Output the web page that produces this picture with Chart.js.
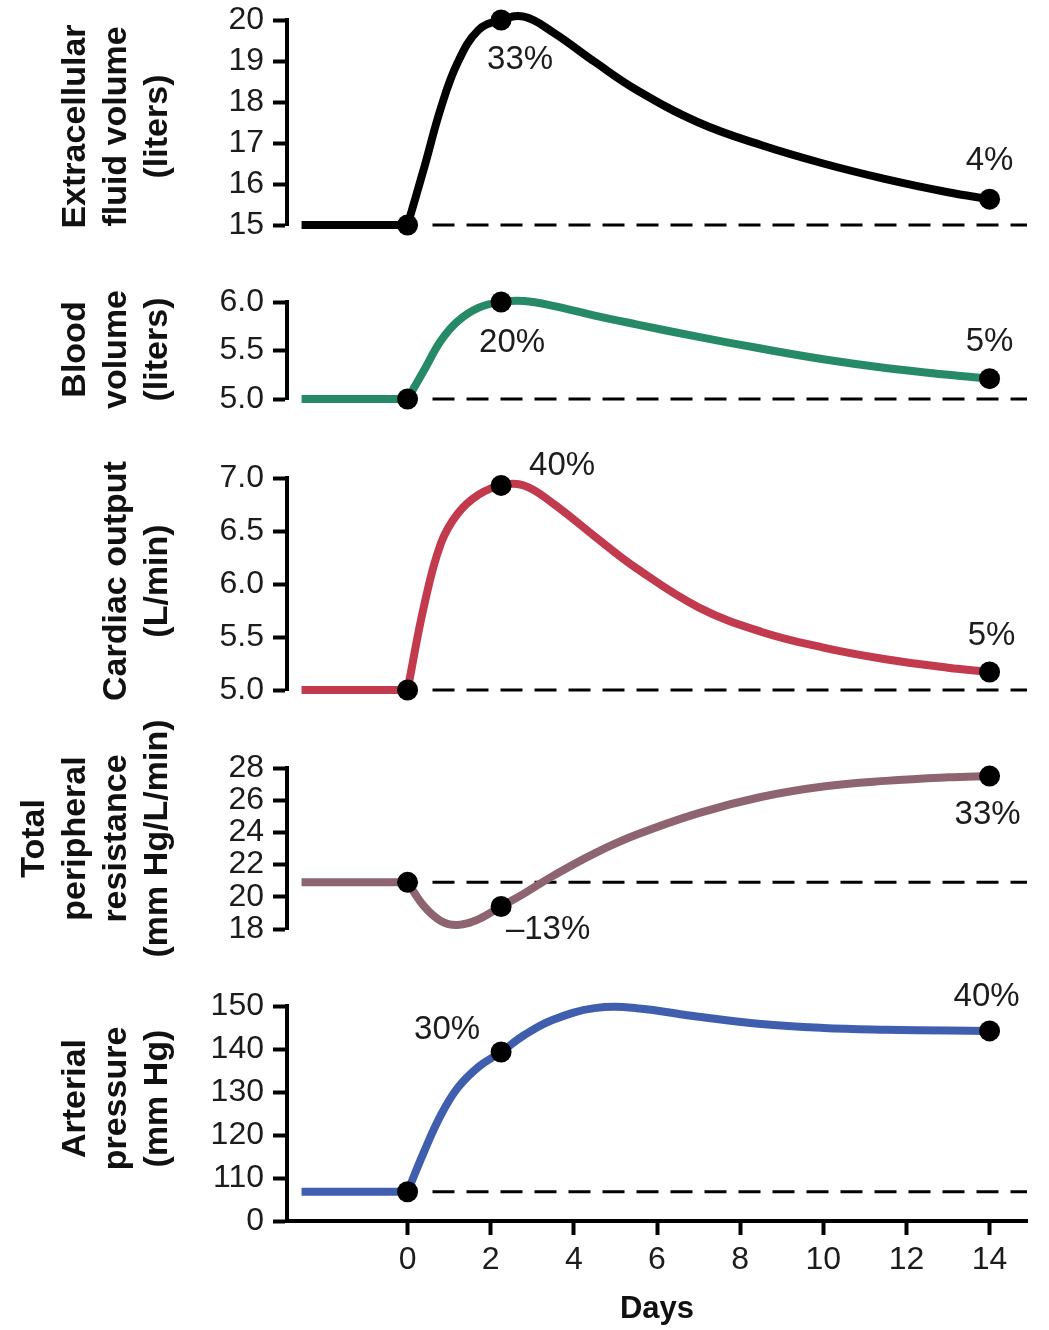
<!DOCTYPE html>
<html>
<head>
<meta charset="utf-8">
<script src="https://cdn.jsdelivr.net/npm/chart.js@4/dist/chart.umd.min.js"></script>
<style>
  html, body { margin: 0; padding: 0; background: #ffffff; }
  #wrap { position: relative; width: 1049px; height: 1330px; overflow: hidden; }
  #wrap canvas { position: absolute; left: 0; }
</style>
</head>
<body>
<div id="wrap"></div>
<script>
// Time grid (days) for the response curves after salt loading begins
const days = [0, 0.4, 0.8, 1.2, 1.7, 2.25, 2.8, 3.5, 4.5, 5.5, 7, 8.5, 10, 11.5, 13, 14];
const preDays = [-2.55, 0];          // steady state before day 0
const markerDays = [0, 2.25, 14];    // highlighted points
const dashDays = [0.6, 14.9];        // reference (baseline) dashed line
const dayTicks = [0, 2, 4, 6, 8, 10, 12, 14];

// Series values
const ecfLiters        = [15, 16.4, 17.85, 18.95, 19.75, 20.0, 20.08, 19.7, 18.98, 18.3, 17.5, 16.95, 16.5, 16.12, 15.8, 15.63];
const bloodLiters      = [5.0, 5.3, 5.6, 5.8, 5.94, 6.0, 6.01, 5.96, 5.86, 5.77, 5.64, 5.52, 5.41, 5.32, 5.25, 5.21];
const cardiacOutput    = [5.0, 5.8, 6.38, 6.66, 6.84, 6.93, 6.93, 6.76, 6.45, 6.15, 5.78, 5.55, 5.4, 5.29, 5.21, 5.17];
const peripheralRes    = [20.9, 19.4, 18.5, 18.25, 18.6, 19.4, 20.2, 21.3, 22.7, 23.85, 25.2, 26.2, 26.85, 27.2, 27.42, 27.5];
const arterialPressure = [106.8, 116.2, 124.6, 130.9, 135.8, 139.3, 143.2, 146.8, 149.5, 149.5, 147.5, 145.8, 144.9, 144.5, 144.3, 144.2];

// Axis ticks and their labels
const ecfTicks = [15, 16, 17, 18, 19, 20];
const ecfTickLabels = ['15', '16', '17', '18', '19', '20'];
const bloodTicks = [5.0, 5.5, 6.0];
const bloodTickLabels = ['5.0', '5.5', '6.0'];
const cardiacTicks = [5.0, 5.5, 6.0, 6.5, 7.0];
const cardiacTickLabels = ['5.0', '5.5', '6.0', '6.5', '7.0'];
const resTicks = [18, 20, 22, 24, 26, 28];
const resTickLabels = ['18', '20', '22', '24', '26', '28'];
const pressureTicks = [100, 110, 120, 130, 140, 150];           // broken axis: bottom tick reads 0
const pressureTickLabels = ['0', '110', '120', '130', '140', '150'];
const dayTickLabels = ['0', '2', '4', '6', '8', '10', '12', '14'];

// Percent-change notes at the day 2.25 and day 14 points
const notedDays = [2.25, 14];
const ecfPct = ['33%', '4%'];
const bloodPct = ['20%', '5%'];
const cardiacPct = ['40%', '5%'];
const resPct = ['\u201313%', '33%'];
const pressurePct = ['30%', '40%'];

const FONT = '"Liberation Sans", Arial, Helvetica, sans-serif';
const PAD = 70;
const AXIS_LEFT = 287;
const CANVAS_W = 1049;

const panels = [
  { title: ['Extracellular', 'fluid volume', '(liters)'], values: ecfLiters, ticks: ecfTicks, tickLabels: ecfTickLabels,
    pct: ecfPct, color: '#000000', top: 20, bottom: 225, noteOffsets: [[19, 40], [0, -38]], titleShift: 4 },
  { title: ['Blood', 'volume', '(liters)'], values: bloodLiters, ticks: bloodTicks, tickLabels: bloodTickLabels,
    pct: bloodPct, color: '#268a67', top: 302, bottom: 399, noteOffsets: [[11, 41], [0, -37]], titleShift: -1 },
  { title: ['Cardiac output', '(L/min)'], values: cardiacOutput, ticks: cardiacTicks, tickLabels: cardiacTickLabels,
    pct: cardiacPct, color: '#c23a4e', top: 478, bottom: 690, noteOffsets: [[61, -20], [2, -36]], titleShift: -3 },
  { title: ['Total', 'peripheral', 'resistance', '(mm Hg/L/min)'], values: peripheralRes, ticks: resTicks, tickLabels: resTickLabels,
    pct: resPct, color: '#8d6470', top: 768, bottom: 929, noteOffsets: [[47, 23], [-2, 39]], titleShift: -10 },
  { title: ['Arterial', 'pressure', '(mm Hg)'], values: arterialPressure, ticks: pressureTicks, tickLabels: pressureTickLabels,
    pct: pressurePct, color: '#3f5fae', top: 1006, bottom: 1221, noteOffsets: [[-54, -22], [-3, -34]], titleShift: -15, last: true }
];

// Draws the rotated multi-line axis title and the percent notes
const panelText = {
  id: 'panelText',
  afterDraw(chart, args, opts) {
    const ctx = chart.ctx;
    const xs = chart.scales.x, ys = chart.scales.y, area = chart.chartArea;
    ctx.save();
    ctx.fillStyle = '#1c1c1c';
    ctx.textAlign = 'center';
    ctx.textBaseline = 'middle';
    ctx.font = '33px ' + FONT;
    opts.notes.forEach(n => {
      const px = xs.getPixelForValue(n.day);
      const py = ys.getPixelForValue(n.value);
      ctx.fillText(n.text, px + n.dx, py + n.dy);
    });
    ctx.fillStyle = '#111111';
    ctx.font = 'bold 34px ' + FONT;
    const lines = opts.title;
    const cy = (area.top + area.bottom) / 2 + opts.titleShift;
    lines.forEach((line, i) => {
      const cx = 158 - (lines.length - 1 - i) * 41;
      ctx.save();
      ctx.translate(cx, cy);
      ctx.rotate(-Math.PI / 2);
      ctx.fillText(line, 0, 0);
      ctx.restore();
    });
    ctx.restore();
  }
};

const wrap = document.getElementById('wrap');

panels.forEach(p => {
  const canvasTop = p.top - PAD;
  const canvasH = p.last ? (1330 - canvasTop) : (p.bottom - p.top + 2 * PAD);
  const xAxisH = 1330 - p.bottom;
  const canvas = document.createElement('canvas');
  canvas.width = CANVAS_W;
  canvas.height = canvasH;
  canvas.style.width = CANVAS_W + 'px';
  canvas.style.height = canvasH + 'px';
  canvas.style.top = canvasTop + 'px';
  wrap.appendChild(canvas);

  const base = p.values[0];
  const markerPts = markerDays.map(d => ({ x: d, y: p.values[days.indexOf(d)] }));
  const notes = notedDays.map((d, i) => ({
    day: d, value: p.values[days.indexOf(d)], text: p.pct[i],
    dx: p.noteOffsets[i][0], dy: p.noteOffsets[i][1]
  }));

  new Chart(canvas, {
    type: 'line',
    data: {
      datasets: [
        { data: markerPts, showLine: false, pointRadius: 10.5, pointHoverRadius: 10.5,
          pointBackgroundColor: '#000', pointBorderWidth: 0, clip: false },
        { data: preDays.map(d => ({ x: d, y: base })), borderColor: p.color, borderWidth: 8,
          pointRadius: 0, clip: false },
        { data: days.map((d, i) => ({ x: d, y: p.values[i] })), borderColor: p.color, borderWidth: 8,
          borderJoinStyle: 'round', pointRadius: 0, tension: 0.4, clip: false },
        { data: dashDays.map(d => ({ x: d, y: base })), borderColor: '#000', borderWidth: 3,
          borderDash: [22, 12], pointRadius: 0, clip: false }
      ]
    },
    plugins: [panelText],
    options: {
      responsive: false,
      animation: false,
      devicePixelRatio: 1,
      events: [],
      layout: { padding: { top: PAD, bottom: p.last ? 0 : PAD, left: 0, right: CANVAS_W - 1027 } },
      plugins: {
        legend: { display: false },
        tooltip: { enabled: false },
        panelText: { notes: notes, title: p.title, titleShift: p.titleShift }
      },
      scales: {
        x: {
          type: 'linear', min: -2.9, max: 14.9, display: !!p.last,
          afterBuildTicks: s => { s.ticks = dayTicks.map(v => ({ value: v })); },
          afterFit: s => { if (p.last) s.height = xAxisH; },
          grid: { drawOnChartArea: false, drawTicks: true, tickLength: 14, tickWidth: 4, color: '#000' },
          border: { display: true, width: 4, color: '#000' },
          ticks: {
            color: '#1c1c1c', font: { family: FONT, size: 32 }, padding: 6, maxRotation: 0, autoSkip: false,
            callback: v => dayTickLabels[dayTicks.indexOf(v)]
          },
          title: { display: true, text: 'Days', color: '#111', font: { family: FONT, size: 31, weight: 'bold' },
                   padding: { top: 0, bottom: 2 } }
        },
        y: {
          type: 'linear', min: p.ticks[0], max: p.ticks[p.ticks.length - 1],
          afterBuildTicks: s => { s.ticks = p.ticks.map(v => ({ value: v })); },
          afterFit: s => { s.width = AXIS_LEFT; },
          grid: { drawOnChartArea: false, drawTicks: true, tickLength: 14, tickWidth: 4, color: '#000' },
          border: { display: true, width: 4, color: '#000' },
          ticks: {
            color: '#1c1c1c', font: { family: FONT, size: 32 }, padding: 9, autoSkip: false,
            callback: v => p.tickLabels[p.ticks.indexOf(v)]
          }
        }
      }
    }
  });
});
</script>
</body>
</html>
